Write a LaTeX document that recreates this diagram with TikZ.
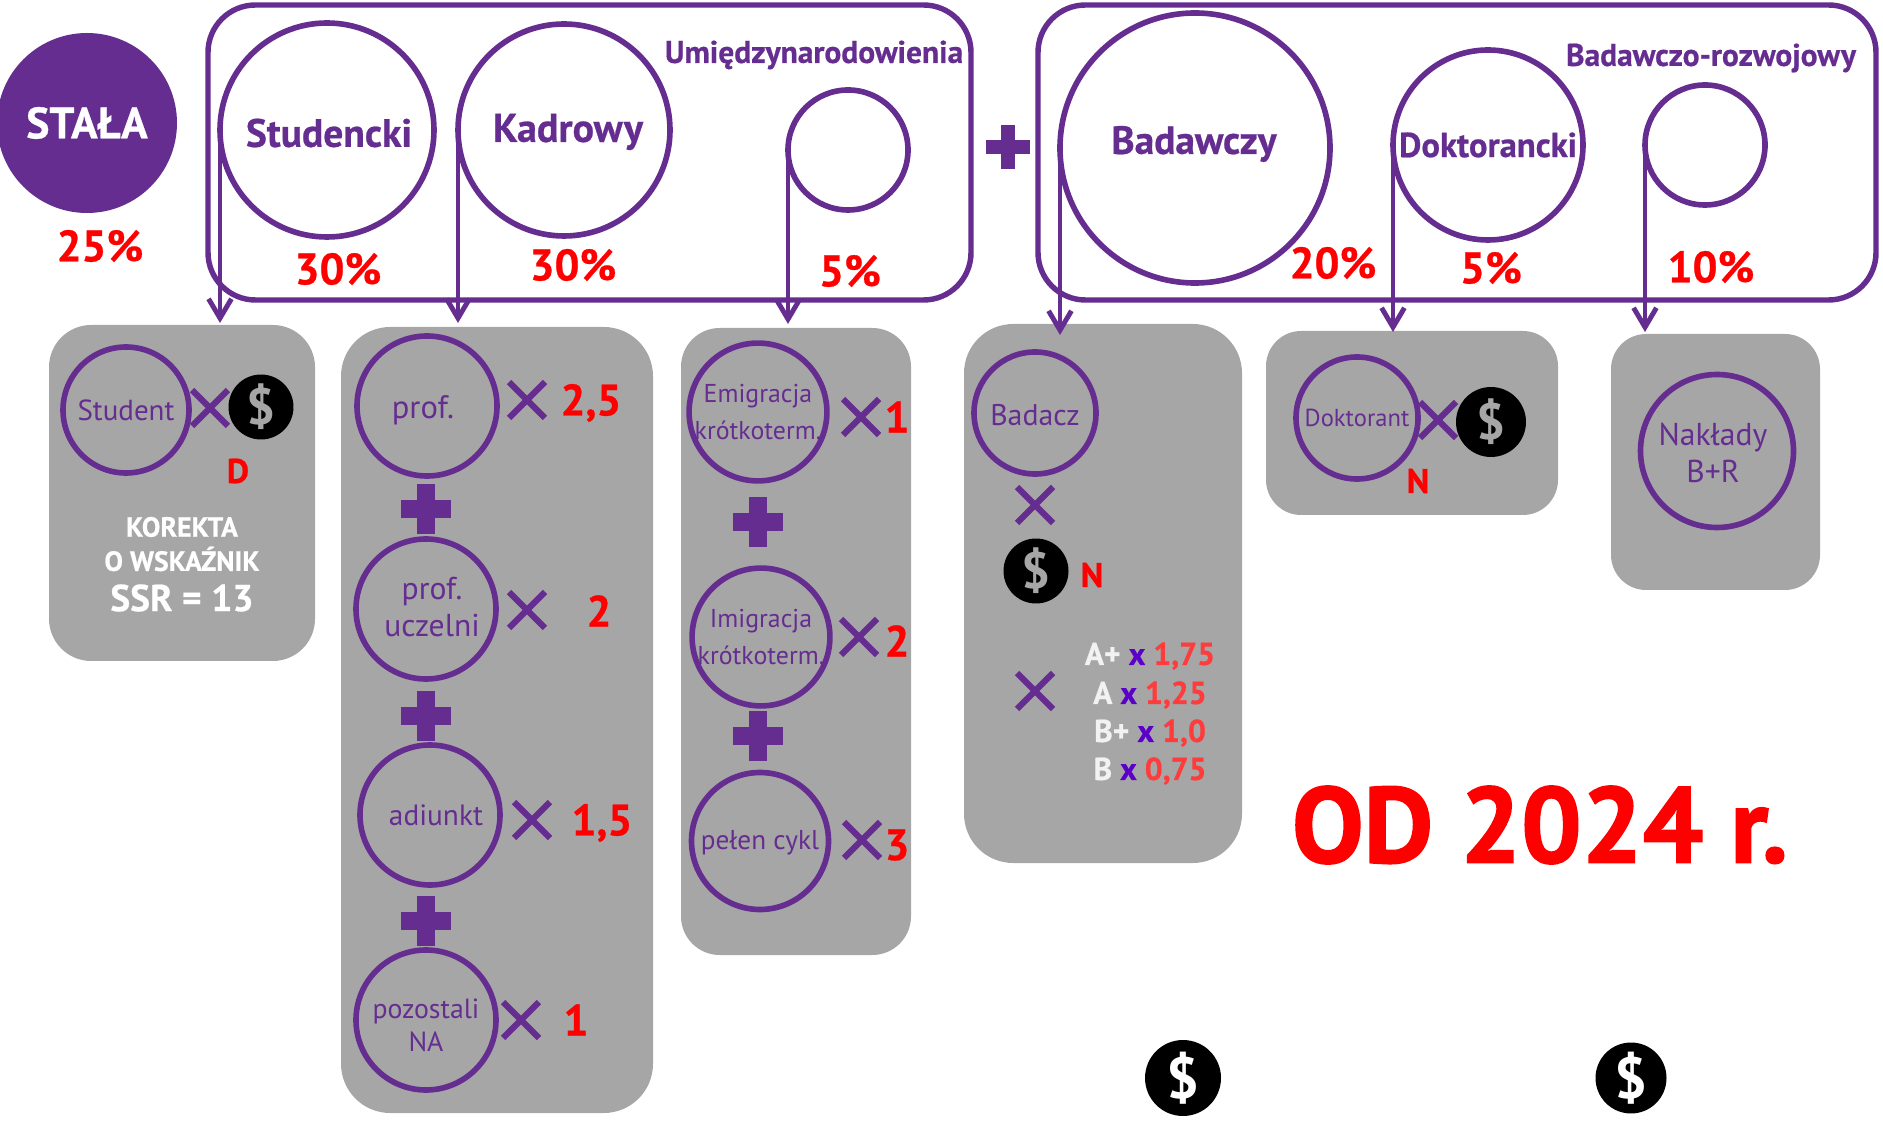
\documentclass[tikz,border=0pt]{standalone}
\usepackage{fontspec}
\setmainfont{PT Sans}[BoldFeatures={FakeBold=0.6}]
\newfontfamily\heavyfont{PT Sans Bold}[FakeBold=1.6]
\newfontfamily\coinfont{PT Sans Bold}
\usetikzlibrary{arrows.meta}
\usetikzlibrary{fit}
\usetikzlibrary{shapes.misc}
\definecolor{brand}{HTML}{662D91}
\definecolor{panelgrey}{HTML}{A6A6A6}
\definecolor{rowwhite}{HTML}{F2F2F2}
\definecolor{rowx}{HTML}{5B00C8}
\definecolor{rowred}{HTML}{FF3B3B}
\newcommand{\fs}[1]{\fontsize{#1pt}{21pt}\selectfont}
\newcommand{\rowtext}[3]{{\color{rowwhite}#1} {\color{rowx}#2} {\color{rowred}#3}}
\tikzset{
  ring/.style={circle, draw=brand, line width=3.2pt, minimum size=#1*0.02cm, inner sep=0pt, outer sep=0pt, text=brand, align=center},
  ringtext/.style={text=brand, align=center},
  frame/.style={draw=brand, line width=3.1pt, rounded corners=27pt, inner sep=0pt},
  panel/.style={fill=panelgrey, inner sep=0pt, rounded corners=#1pt},
  flow/.style={draw=brand, line width=2.8pt, -{Straight Barb[length=11pt,width=13pt]}},
  times/.style={cross out, draw=brand, line width=3.6pt, minimum size=0.72cm, inner sep=0pt, outer sep=0pt},
  plusmark/.style={cross out, draw=brand, rotate=45, line width=#1pt, minimum size=#1*0.07cm, inner sep=0pt, outer sep=0pt},
  coin/.style={circle, fill=black, text=#1, minimum size=1.3cm, inner sep=0pt, font=\fs{29}\coinfont},
  pct/.style={text=red, font=\fs{25}\bfseries},
  val/.style={text=red, font=\fs{25}\bfseries},
  letter/.style={text=red, font=\fs{19.5}\bfseries},
  heading/.style={text=brand, font=\fs{17.9}\bfseries},
}
\begin{document}
\begin{tikzpicture}[x=0.02cm,y=-0.02cm]
    \useasboundingbox (0,0) rectangle (1883,1124);

    \node[panel=24, fit={(49,325) (315,661)}] (studentbox) {};
    \node[panel=28, fit={(341,327) (653,1113)}] (kadrabox) {};
    \node[panel=22, fit={(681,328) (911,955)}] (wymianabox) {};
    \node[panel=28, fit={(964,324) (1242,863)}] (badaczbox) {};
    \node[panel=20, fit={(1266,331) (1558,515)}] (doktorantbox) {};
    \node[panel=20, fit={(1611,334) (1820,590)}] (nakladybox) {};

    \node[frame, fit={(208,5) (971,300)}] (frameleft) {};
    \node[frame, fit={(1038,5) (1876,300)}] (frameright) {};

    \node[circle, fill=brand, text=white, minimum size=180*0.02cm, inner sep=0pt, font=\fs{25}\bfseries] (stala) at (87,123) {STAŁA};
    \node[pct] (pstala) at (100,246) {25\%};

    \node[ring=214] (studencki) at (327,130) {};
    \node[ringtext, font=\fs{22.5}\bfseries] (studenckitext) at (329,133) {Studencki};
    \node[ring=212] (kadrowy) at (564,130) {};
    \node[ringtext, font=\fs{22.8}\bfseries] (kadrowytext) at (568,132) {Kadrowy};
    \node[ring=120] (umiedzy) at (848,150) {};
    \node[ring=270] (badawczy) at (1195,148) {};
    \node[ringtext, font=\fs{22.4}\bfseries] (badawczytext) at (1194,144) {Badawczy};
    \node[ring=190, font=\fs{19.7}\bfseries] (doktorancki) at (1488,145) {Doktorancki};
    \node[ring=120] (rozwoj) at (1705,145) {};

    \node[heading] (umiedzytext) at (814,55) {Umiędzynarodowienia};
    \node[heading] (rozwojtext) at (1711,58) {Badawczo-rozwojowy};
    \node[plusmark=8, minimum size=0.62cm] (plustop) at (1008,147) {};

    \node[pct] (pstudencki) at (338,269) {30\%};
    \node[pct] (pkadrowy) at (573,265) {30\%};
    \node[pct] (pumiedzy) at (850,271) {5\%};
    \node[pct] (pbadawczy) at (1333,263) {20\%};
    \node[pct] (pdoktorancki) at (1491,268) {5\%};
    \node[pct] (projwoj) at (1711,267) {10\%};

    \coordinate (studentend) at (0,323);
    \coordinate (kadraend) at (0,323);
    \coordinate (wymianaend) at (0,324);
    \coordinate (badaczend) at (0,335);
    \coordinate (doktorantend) at (0,332);
    \coordinate (nakladyend) at (0,332);
    \draw[flow] (studencki.west) -- (studencki.west |- studentend);
    \draw[flow] (kadrowy.west) -- (kadrowy.west |- kadraend);
    \draw[flow] (umiedzy.west) -- (umiedzy.west |- wymianaend);
    \draw[flow] (badawczy.west) -- (badawczy.west |- badaczend);
    \draw[flow] (doktorancki.west) -- (doktorancki.west |- doktorantend);
    \draw[flow] (rozwoj.west) -- (rozwoj.west |- nakladyend);

    % student
    \node[ring=126, font=\fs{16.5}] (student) at (126,410) {Student};
    \node[times] (xstudent) at (210,408) {};
    \node[coin=panelgrey] (cstudent) at (261,407) {\$};
    \node[letter] (dstudent) at (238,471) {D};
    \node[text=white, font=\fs{15.8}\bfseries] (korekta) at (182,527) {KOREKTA};
    \node[text=white, font=\fs{15.8}\bfseries] (wskaznik) at (182,559) {O WSKAŹNIK};
    \node[text=white, font=\fs{21.3}\bfseries] (ssr) at (182,598) {SSR = 13};

    % kadra
    \node[ring=140] (prof) at (427,406) {};
    \node[ringtext, font=\fs{18.5}] (proftext) at (423,410) {prof.};
    \node[ring=140] (uczelni) at (426,609) {};
    \node[ringtext, font=\fs{18}] (uczelnitext) at (432,607) {prof.\\uczelni};
    \node[ring=140] (adiunkt) at (430,815) {};
    \node[ringtext, font=\fs{16.7}] (adiunkttext) at (436,815) {adiunkt};
    \node[ring=140] (pozostali) at (426,1020) {};
    \node[ringtext, font=\fontsize{15.8pt}{18.8pt}\selectfont] (pozostalitext) at (426,1025) {pozostali\\NA};
    \node[times] (xprof) at (527,400) {};
    \node[times] (xuczelni) at (527,610) {};
    \node[times] (xadiunkt) at (532,820) {};
    \node[times] (xpozostali) at (521,1020) {};
    \node[val] (vprof) at (591,403) {2,5};
    \node[val] (vuczelni) at (599,611) {2};
    \node[val] (vadiunkt) at (602,823) {1,5};
    \node[val] (vpozostali) at (576,1020) {1};
    \node[plusmark=10] (plusa) at (426,509) {};
    \node[plusmark=10] (plusb) at (426,716) {};
    \node[plusmark=10] (plusc) at (426,921) {};

    % wymiana
    \node[ring=136, font=\fs{14.7}] (emigracja) at (758,412) {Emigracja\\krótkoterm.};
    \node[ring=137, font=\fs{14.7}] (imigracja) at (761,637) {Imigracja\\krótkoterm.};
    \node[ring=137] (cykl) at (760,841) {};
    \node[ringtext, font=\fs{15.5}] (cykltext) at (760,843) {pełen cykl};
    \node[times] (xemigracja) at (861,417) {};
    \node[times] (ximigracja) at (859,637) {};
    \node[times] (xcykl) at (862,840) {};
    \node[val] (vemigracja) at (897,417) {1};
    \node[val] (vimigracja) at (897,641) {2};
    \node[val] (vcykl) at (897,845) {3};
    \node[plusmark=10] (plusd) at (758,522) {};
    \node[plusmark=10] (pluse) at (758,736) {};

    % badacz
    \node[ring=122] (badacz) at (1035,413) {};
    \node[ringtext, font=\fs{17}] (badacztext) at (1035,415) {Badacz};
    \node[times] (xbadacz) at (1035,505) {};
    \node[coin=panelgrey] (cbadacz) at (1036,571) {\$};
    \node[letter] (nbadacz) at (1092,575) {N};
    \node[times] (xkat) at (1035,691) {};
    \begin{scope}[font=\fs{18}\bfseries]
      \node (rowa) at (1150,656) {\rowtext{A+}{x}{1,75}};
      \node (rowb) at (1150,695) {\rowtext{A}{x}{1,25}};
      \node (rowc) at (1150,733) {\rowtext{B+}{x}{1,0}};
      \node (rowd) at (1150,771) {\rowtext{B}{x}{0,75}};
    \end{scope}

    % doktorant, naklady
    \node[ring=122, font=\fs{14}] (doktorant) at (1357,418) {Doktorant};
    \node[times] (xdoktorant) at (1438,420) {};
    \node[coin=panelgrey, minimum size=1.4cm] (cdoktorant) at (1491,422) {\$};
    \node[letter] (ndoktorant) at (1418,481) {N};
    \node[ring=153] (naklady) at (1717,451) {};
    \node[ringtext, font=\fs{18}] (nakladytext) at (1713,453) {Nakłady\\B+R};

    \node[text=red, font=\fontsize{61pt}{70pt}\heavyfont] (od) at (1540,825) {OD 2024 r.};
    \node[coin=white, minimum size=1.52cm, font=\fs{33}\coinfont] (ca) at (1183,1078) {\$};
    \node[coin=white, minimum size=1.42cm, font=\fs{33}\coinfont] (cb) at (1631,1078) {\$};
\end{tikzpicture}
\end{document}
